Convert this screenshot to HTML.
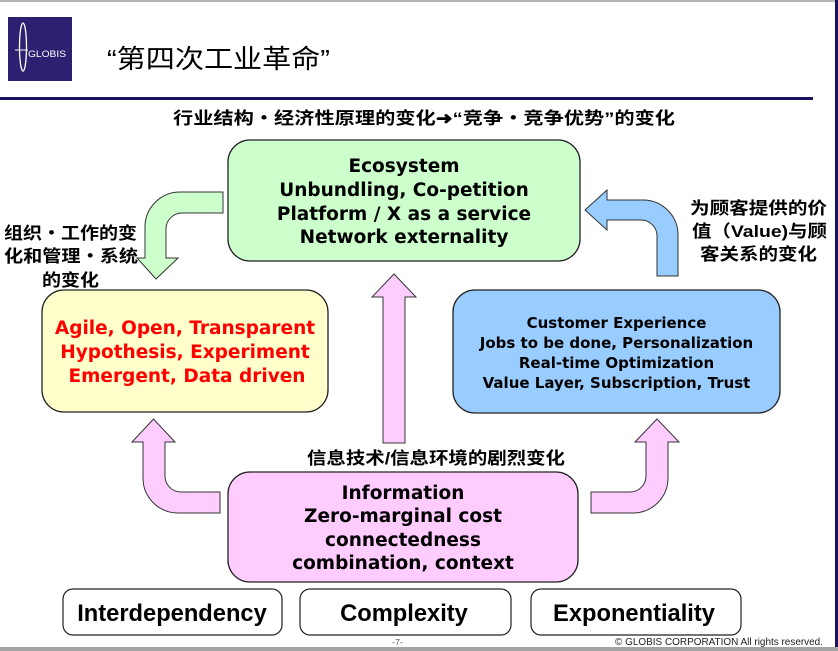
<!DOCTYPE html>
<html>
<head>
<meta charset="utf-8">
<style>
html,body{margin:0;padding:0;background:#fff;}
body{width:838px;height:651px;overflow:hidden;position:relative;}
svg{display:block;}
.cjk{font-family:"Liberation Sans","Noto Sans CJK SC",sans-serif;font-weight:bold;font-size:17px;fill:#000;}
.en{font-family:"DejaVu Sans","Liberation Sans",sans-serif;font-weight:bold;font-size:18.5px;fill:#000;}
.en15{font-family:"DejaVu Sans","Liberation Sans",sans-serif;font-weight:bold;font-size:15px;fill:#000;}
.big{font-family:"Liberation Sans",sans-serif;font-weight:bold;font-size:23.7px;fill:#000;}
</style>
</head>
<body>
<svg width="838" height="651" viewBox="0 0 838 651" xmlns="http://www.w3.org/2000/svg">
  <!-- frame -->
  <rect x="0" y="0" width="838" height="651" fill="#fff"/>
  <rect x="0" y="0" width="838" height="2" fill="#b4b4b4"/>
  <rect x="835" y="0" width="3" height="647" fill="#1a1260"/>
  <rect x="0" y="647" width="838" height="4" fill="#a4a4a4"/>
  <rect x="0" y="97" width="813" height="3" fill="#1a1460"/>

  <!-- logo -->
  <rect x="8" y="17" width="64" height="64" fill="#2e2070"/>
  <ellipse cx="23" cy="47" rx="3.5" ry="24" fill="none" stroke="#fff" stroke-width="1.3"/>
  <line x1="15" y1="50" x2="28" y2="50" stroke="#fff" stroke-width="1"/>
  <text x="28" y="57" font-family="Liberation Sans, sans-serif" font-size="9" fill="#fff" textLength="38" lengthAdjust="spacingAndGlyphs">GLOBIS</text>

  <!-- title -->
  <text x="107" y="68" font-family="Liberation Sans, 'Noto Sans CJK SC', sans-serif" font-size="26" fill="#000" textLength="223" lengthAdjust="spacingAndGlyphs">“第四次工业革命”</text>

  <!-- subtitle -->
  <text class="cjk" x="173" y="124" textLength="502" lengthAdjust="spacingAndGlyphs">行业结构・经济性原理的变化➜“竞争・竞争优势”的变化</text>

  <!-- arrows -->
  <!-- green bent arrow -->
  <path d="M223,192 L180,192 A35,35 0 0 0 145,227 L145,258 L137,258 L156,279 L178,258 L166,258 L166,229 A16,16 0 0 1 182,213 L223,213 Z" fill="#ccffcc" stroke="#333" stroke-width="1"/>
  <!-- blue bent arrow -->
  <path d="M657,276 L678,276 L678,235 A35,35 0 0 0 643,200 L607,200 L607,190 L585,210 L607,230 L607,220 L641,220 A16,16 0 0 1 657,236 Z" fill="#99ccff" stroke="#333" stroke-width="1"/>
  <!-- left pink bent arrow -->
  <path d="M220,492 L220,513 L178,513 A35,35 0 0 1 143,478 L143,442 L132,442 L153.5,419 L175,442 L165,442 L165,476 A16,16 0 0 0 181,492 Z" fill="#ffccff" stroke="#333" stroke-width="1"/>
  <!-- right pink bent arrow -->
  <path d="M591,492 L591,513 L633,513 A35,35 0 0 0 668,478 L668,442 L679,442 L657,419 L635,442 L646,442 L646,476 A16,16 0 0 1 630,492 Z" fill="#ffccff" stroke="#333" stroke-width="1"/>
  <!-- middle pink up arrow -->
  <path d="M383,443 L405,443 L405,297 L416,297 L394,274 L372,297 L383,297 Z" fill="#ffccff" stroke="#333" stroke-width="1"/>

  <!-- green box -->
  <rect x="228" y="140" width="352" height="121" rx="22" ry="22" fill="#ccffcc" stroke="#222" stroke-width="1.3"/>
  <text class="en" x="404" y="172" text-anchor="middle">Ecosystem</text>
  <text class="en" x="404" y="196" text-anchor="middle">Unbundling, Co-petition</text>
  <text class="en" x="404" y="220" text-anchor="middle">Platform / X as a service</text>
  <text class="en" x="404" y="243" text-anchor="middle">Network externality</text>

  <!-- yellow box -->
  <rect x="42" y="290" width="286" height="122" rx="22" ry="22" fill="#ffffcc" stroke="#222" stroke-width="1.3"/>
  <text class="en" x="185" y="334" text-anchor="middle" style="fill:#f00">Agile, Open, Transparent</text>
  <text class="en" x="185" y="358" text-anchor="middle" style="fill:#f00">Hypothesis, Experiment</text>
  <text class="en" x="187" y="382" text-anchor="middle" style="fill:#f00">Emergent, Data driven</text>

  <!-- blue box -->
  <rect x="453" y="290" width="327" height="123" rx="22" ry="22" fill="#99ccff" stroke="#222" stroke-width="1.3"/>
  <text class="en15" x="616.5" y="328" text-anchor="middle">Customer Experience</text>
  <text class="en15" x="616.5" y="348" text-anchor="middle">Jobs to be done, Personalization</text>
  <text class="en15" x="616.5" y="368" text-anchor="middle">Real-time Optimization</text>
  <text class="en15" x="616.5" y="388" text-anchor="middle">Value Layer, Subscription, Trust</text>

  <!-- pink box -->
  <rect x="228" y="472" width="350" height="110" rx="22" ry="22" fill="#ffccff" stroke="#222" stroke-width="1.3"/>
  <text class="en" x="403" y="499" text-anchor="middle">Information</text>
  <text class="en" x="403" y="522" text-anchor="middle">Zero-marginal cost</text>
  <text class="en" x="403" y="546" text-anchor="middle">connectedness</text>
  <text class="en" x="403" y="569" text-anchor="middle">combination, context</text>

  <!-- CJK labels -->
  <text class="cjk" x="4" y="239" textLength="133" lengthAdjust="spacingAndGlyphs">组织・工作的变</text>
  <text class="cjk" x="4" y="262" textLength="134" lengthAdjust="spacingAndGlyphs">化和管理・系统</text>
  <text class="cjk" x="42" y="286" textLength="57" lengthAdjust="spacingAndGlyphs">的变化</text>

  <text class="cjk" x="690" y="214" textLength="137" lengthAdjust="spacingAndGlyphs">为顾客提供的价</text>
  <text class="cjk" x="692" y="237" textLength="135" lengthAdjust="spacingAndGlyphs">值（Value)与顾</text>
  <text class="cjk" x="700" y="260" textLength="117" lengthAdjust="spacingAndGlyphs">客关系的变化</text>

  <text class="cjk" x="307" y="464" textLength="258" lengthAdjust="spacingAndGlyphs">信息技术/信息环境的剧烈变化</text>

  <!-- bottom boxes -->
  <rect x="63" y="589" width="219" height="46" rx="10" ry="10" fill="#fff" stroke="#222" stroke-width="1.2"/>
  <text class="big" x="172" y="621" text-anchor="middle">Interdependency</text>
  <rect x="300" y="589" width="211" height="46" rx="10" ry="10" fill="#fff" stroke="#222" stroke-width="1.2"/>
  <text class="big" x="404" y="621" text-anchor="middle">Complexity</text>
  <rect x="531" y="589" width="210" height="46" rx="10" ry="10" fill="#fff" stroke="#222" stroke-width="1.2"/>
  <text class="big" x="634" y="621" text-anchor="middle">Exponentiality</text>

  <!-- footer -->
  <text x="392" y="645" font-family="Liberation Sans, sans-serif" font-size="8" fill="#555" textLength="11" lengthAdjust="spacingAndGlyphs">-7-</text>
  <text x="615" y="645" font-family="Liberation Sans, sans-serif" font-size="10.5" fill="#222" textLength="208" lengthAdjust="spacingAndGlyphs">© GLOBIS CORPORATION All rights reserved.</text>
</svg>
</body>
</html>
